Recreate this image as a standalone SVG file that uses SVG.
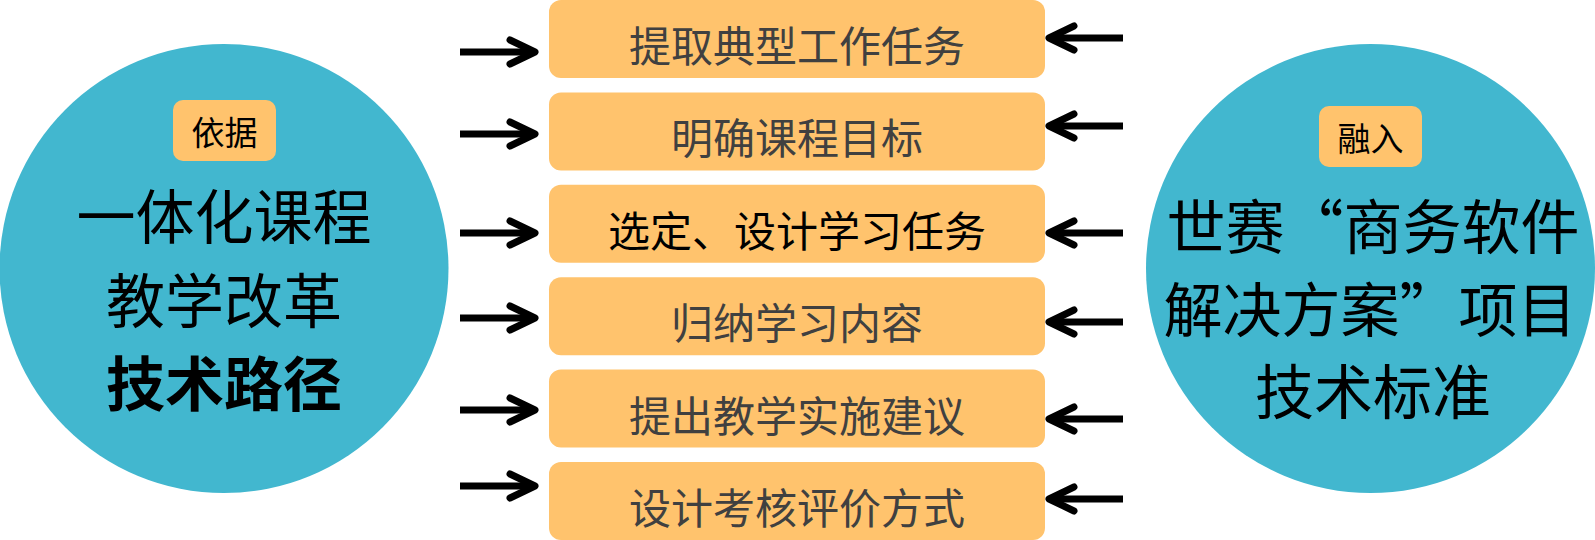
<svg xmlns="http://www.w3.org/2000/svg" width="1595" height="540" viewBox="0 0 1595 540">
  <style>
    .circle { fill: #42B7CF; }
    .box { fill: #FFC36D; }
    .tag { fill: #FFC36D; }
    .cjk { font-family: "Noto Sans CJK SC", "Noto Sans CJK TC", sans-serif; text-anchor: middle; }
    .big { font-size: 59px; fill: #000; }
    .tagt { font-size: 33px; fill: #000; }
    .boxt { font-size: 42px; fill: #404040; }
    .line { stroke: #000; stroke-width: 7; fill: none; }
    .head { stroke: #000; stroke-width: 7; fill: none; stroke-linecap: round; stroke-linejoin: round; }
  </style>
  <rect width="1595" height="540" fill="#fff"/>

  <g id="left-circle">
    <circle class="circle" cx="224" cy="268.5" r="224.5"/>
    <rect class="tag" x="173" y="100" width="103" height="61" rx="10"/>
    <text class="cjk tagt" x="224.5" y="145">依据</text>
    <text class="cjk big" x="224" y="239">一体化课程</text>
    <text class="cjk big" x="224" y="323">教学改革</text>
    <text class="cjk big" x="224" y="406" font-weight="bold">技术路径</text>
  </g>

  <g id="right-circle">
    <circle class="circle" cx="1370.5" cy="268.5" r="224.5"/>
    <rect class="tag" x="1319" y="106" width="103" height="61" rx="10"/>
    <text class="cjk tagt" x="1370.5" y="151">融入</text>
    <text class="cjk big" x="1373" y="249">世赛“商务软件</text>
    <text class="cjk big" x="1370" y="332">解决方案”项目</text>
    <text class="cjk big" x="1373" y="414">技术标准</text>
  </g>

  <g id="box1"><rect class="box" x="549" y="0" width="496" height="78" rx="12"/><text class="cjk boxt" x="797" y="62">提取典型工作任务</text></g>
  <g id="box2"><rect class="box" x="549" y="92.4" width="496" height="78" rx="12"/><text class="cjk boxt" x="797" y="154.4">明确课程目标</text></g>
  <g id="box3"><rect class="box" x="549" y="184.8" width="496" height="78" rx="12"/><text class="cjk boxt" x="797" y="246.8" style="fill:#000">选定、设计学习任务</text></g>
  <g id="box4"><rect class="box" x="549" y="277.2" width="496" height="78" rx="12"/><text class="cjk boxt" x="797" y="339.2">归纳学习内容</text></g>
  <g id="box5"><rect class="box" x="549" y="369.6" width="496" height="78" rx="12"/><text class="cjk boxt" x="797" y="431.6">提出教学实施建议</text></g>
  <g id="box6"><rect class="box" x="549" y="462" width="496" height="78" rx="12"/><text class="cjk boxt" x="797" y="524">设计考核评价方式</text></g>

  <g id="connectors">
    <path class="line" d="M460 52H532M460 134H532M460 233H532M460 318H532M460 410H532M460 486H532"/>
    <path class="head" d="M510 40L535 52L510 64M510 122L535 134L510 146M510 221L535 233L510 245M510 306L535 318L510 330M510 398L535 410L510 422M510 474L535 486L510 498"/>
    <path class="line" d="M1123 38H1052M1123 126H1052M1123 233H1052M1123 322H1052M1123 419H1052M1123 499H1052"/>
    <path class="head" d="M1074 26L1049 38L1074 50M1074 114L1049 126L1074 138M1074 221L1049 233L1074 245M1074 310L1049 322L1074 334M1074 407L1049 419L1074 431M1074 487L1049 499L1074 511"/>
  </g>
</svg>
